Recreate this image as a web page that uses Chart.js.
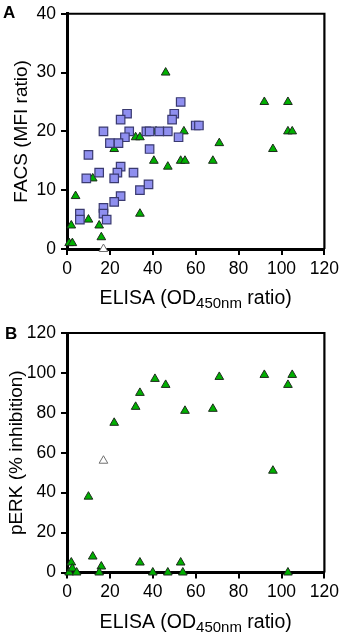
<!DOCTYPE html>
<html>
<head>
<meta charset="utf-8">
<script src="https://cdn.jsdelivr.net/npm/chart.js@4"></script>
<style>
html, body { margin: 0; padding: 0; background: #fff; }
#wrap { position: relative; width: 344px; height: 633px; }
canvas { position: absolute; left: 0; }
</style>
</head>
<body>
<div id="wrap">
  <canvas id="chartA" width="344" height="310" style="top:0;width:344px;height:310px"></canvas>
  <canvas id="chartB" width="344" height="323" style="top:310px;width:344px;height:323px"></canvas>
</div>
<script>
// Panel A - FACS vs ELISA, squares (blue)
const facsSquareElisa = [53, 28, 25, 50, 49, 60, 61.5, 17, 29, 37, 38.5, 43, 47, 27, 20, 24, 52, 38.5, 10, 25, 15, 23.5, 31, 9, 22, 38, 34, 25, 22, 17, 6, 17, 6, 18.5];
const facsSquareMfi   = [25, 23, 22, 23, 22, 21, 21, 20, 20, 20, 20, 20, 20, 19, 18, 18, 19, 17, 16, 14, 13, 13, 13, 12, 12, 11, 10, 9, 8, 7, 6, 6, 5, 5];

// Panel A - triangles (green)
const facsTriElisa = [46, 22, 32, 34, 41.5, 54.5, 40.5, 53, 55, 47, 12, 4, 34, 10, 2, 15, 16, 1, 2.5, 92, 103, 103, 105, 71, 96, 68];
const facsTriMfi   = [30, 17, 19, 19, 20, 20, 15, 15, 15, 14, 12, 9, 6, 5, 4, 4, 2, 1, 1, 25, 25, 20, 20, 18, 17, 15];

// Panel A - open triangle
const facsOpenElisa = [17];
const facsOpenMfi   = [0];

// Panel B - pERK vs ELISA, triangles (green)
const perkTriElisa = [41, 46, 34, 32, 22, 71, 55, 68, 92, 105, 103, 96, 10, 12, 2, 34, 53, 16, 15, 40, 47, 54, 103, 1, 2.5, 4.5];
const perkTriInhib = [97, 94, 90, 83, 75, 98, 81, 82, 99, 99, 94, 51, 38, 8, 5, 5, 5, 3, 0, 0, 0, 0, 0, 0, 2, 0];

// Panel B - open triangle
const perkOpenElisa = [17];
const perkOpenInhib = [56];

// ticks
const xTicks = [0, 20, 40, 60, 80, 100, 120];
const facsTicks = [0, 10, 20, 30, 40];
const perkTicks = [0, 20, 40, 60, 80, 100, 120];

const FONT = "'Liberation Sans', Arial, Helvetica, sans-serif";

function pts(xs, ys) {
  return xs.map((x, i) => ({ x: x, y: ys[i] }));
}

// cadre, titres et lettre du panneau
const framePlugin = {
  id: 'frame',
  beforeDatasetsDraw(chart, args, opts) {
    const { ctx, chartArea: a } = chart;
    ctx.save();
    ctx.strokeStyle = '#000';
    ctx.lineWidth = 2.2;
    ctx.beginPath();
    ctx.moveTo(a.left, a.top);
    ctx.lineTo(a.right, a.top);
    ctx.lineTo(a.right, a.bottom);
    ctx.stroke();

    ctx.fillStyle = '#000';
    // panel letter
    ctx.font = 'bold 17px ' + FONT;
    ctx.textAlign = 'left';
    ctx.textBaseline = 'alphabetic';
    ctx.fillText(opts.letter, opts.letterX, opts.letterY);

    // x title with subscript
    const mainFont = '19.5px ' + FONT;
    const subFont = '15px ' + FONT;
    const p1 = 'ELISA (OD', p2 = '450nm', p3 = ' ratio)';
    ctx.font = mainFont;
    const w1 = ctx.measureText(p1).width, w3 = ctx.measureText(p3).width;
    ctx.font = subFont;
    const w2 = ctx.measureText(p2).width;
    let x = (a.left + a.right) / 2 - (w1 + w2 + w3) / 2;
    const base = a.bottom + 55;
    ctx.font = mainFont;
    ctx.fillText(p1, x, base);
    x += w1;
    ctx.font = subFont;
    ctx.fillText(p2, x, base + 4);
    x += w2;
    ctx.font = mainFont;
    ctx.fillText(p3, x, base);

    // y title
    ctx.font = '19px ' + FONT;
    ctx.textAlign = 'center';
    ctx.translate(opts.yTitleX, (a.top + a.bottom) / 2);
    ctx.rotate(-Math.PI / 2);
    ctx.fillText(opts.yTitle, 0, 0);
    ctx.restore();
  }
};

function makeOptions(yMax, yTicks, yWidth, xHeight, padTop, plug) {
  return {
    responsive: false,
    animation: false,
    layout: { padding: { left: 0, right: 19, top: padTop, bottom: 0 } },
    plugins: {
      legend: { display: false },
      tooltip: { enabled: false },
      frame: plug
    },
    scales: {
      x: {
        type: 'linear',
        min: 0, max: 120,
        afterBuildTicks: (s) => { s.ticks = xTicks.map(v => ({ value: v })); },
        afterFit: (s) => { s.height = xHeight; },
        ticks: { color: '#000', font: { family: FONT, size: 17.5, lineHeight: 1 }, padding: 5, maxRotation: 0 },
        grid: { drawOnChartArea: false, color: '#000', lineWidth: 2, tickLength: 6 },
        border: { color: '#000', width: 3 }
      },
      y: {
        type: 'linear',
        min: 0, max: yMax,
        afterBuildTicks: (s) => { s.ticks = yTicks.map(v => ({ value: v })); },
        afterFit: (s) => { s.width = yWidth; },
        ticks: { color: '#000', font: { family: FONT, size: 17.5, lineHeight: 1 }, padding: 5 },
        grid: { drawOnChartArea: false, color: '#000', lineWidth: 2, tickLength: 6 },
        border: { color: '#000', width: 3 }
      }
    }
  };
}

const squareStyle = {
  pointStyle: 'rect', pointRadius: 6,
  backgroundColor: '#8f8fef', borderColor: '#3a3a70', borderWidth: 1.2, clip: false
};
const triStyle = {
  pointStyle: 'triangle', pointRadius: 5,
  backgroundColor: '#00b000', borderColor: '#1c2a1c', borderWidth: 1, clip: false
};
const openStyle = {
  pointStyle: 'triangle', pointRadius: 5,
  backgroundColor: '#ffffff', borderColor: '#707070', borderWidth: 1, clip: false
};

new Chart(document.getElementById('chartA'), {
  type: 'scatter',
  data: {
    datasets: [
      Object.assign({ label: 'squares', data: pts(facsSquareElisa, facsSquareMfi) }, squareStyle),
      Object.assign({ label: 'triangles', data: pts(facsTriElisa, facsTriMfi) }, triStyle),
      Object.assign({ label: 'open', data: pts(facsOpenElisa, facsOpenMfi) }, openStyle)
    ]
  },
  options: makeOptions(40, facsTicks, 67, 61, 10,
    { letter: 'A', letterX: 3, letterY: 18, yTitle: 'FACS (MFI ratio)', yTitleX: 26.5 }),
  plugins: [framePlugin]
});

new Chart(document.getElementById('chartB'), {
  type: 'scatter',
  data: {
    datasets: [
      Object.assign({ label: 'triangles', data: pts(perkTriElisa, perkTriInhib) }, triStyle),
      Object.assign({ label: 'open', data: pts(perkOpenElisa, perkOpenInhib) }, openStyle)
    ]
  },
  options: makeOptions(120, perkTicks, 67, 60.5, 23,
    { letter: 'B', letterX: 5, letterY: 29, yTitle: 'pERK (% inhibition)', yTitleX: 21.5 }),
  plugins: [framePlugin]
});
</script>
</body>
</html>
